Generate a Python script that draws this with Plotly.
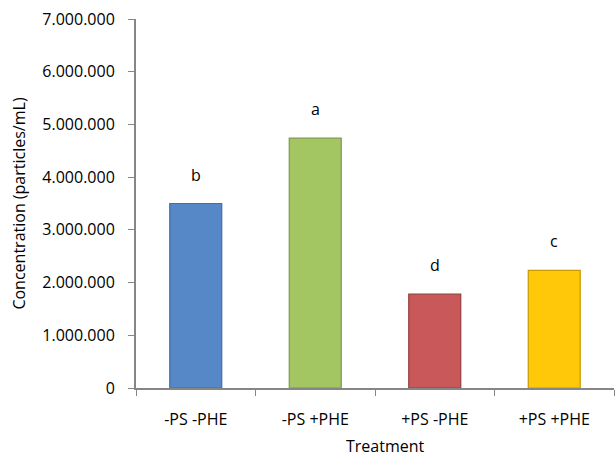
import plotly.graph_objects as go

categories = ["-PS -PHE", "-PS +PHE", "+PS -PHE", "+PS +PHE"]
values = [3500000, 4740000, 1780000, 2230000]
letters = ["b", "a", "d", "c"]
fill_colors = ["#5687C7", "#A3C562", "#C9585A", "#FFC90A"]
line_colors = ["#41709F", "#7F9A48", "#963F3D", "#C79B00"]

FONT = "Open Sans"

fig = go.Figure()
fig.add_trace(go.Bar(
    x=categories, y=values,
    marker=dict(color=fill_colors, line=dict(color=line_colors, width=1.2)),
    width=0.435,
    showlegend=False,
))

for c, v, t in zip(categories, values, letters):
    fig.add_annotation(x=c, y=v, text=t, showarrow=False, yshift=29,
                       yanchor="middle", font=dict(family=FONT, size=16, color="#000"))

# x-axis title placed as paper annotation
fig.add_annotation(text="Treatment", xref="paper", yref="paper", x=0.523, y=-0.122,
                   xanchor="center", yanchor="top", showarrow=False,
                   font=dict(family=FONT, size=16, color="#000"))

fig.update_layout(
    width=616, height=455,
    margin=dict(l=136, r=2, t=19, b=67),
    paper_bgcolor="white", plot_bgcolor="white",
    separators=",.",
    font=dict(family=FONT, size=16, color="#000"),
)
fig.update_yaxes(
    range=[0, 7000000], dtick=1000000, tickformat=",d",
    showgrid=False, zeroline=False, automargin=False,
    showline=True, linecolor="#868686", linewidth=2,
    ticks="outside", ticklen=6, tickcolor="#868686", tickwidth=1,
    ticklabelstandoff=10,
    tickfont=dict(family=FONT, size=16),
    title=dict(text="Concentration (particles/mL)", font=dict(family=FONT, size=16), standoff=13),
)
fig.update_xaxes(
    showgrid=False, automargin=False,
    showline=True, linecolor="#868686", linewidth=2,
    ticks="outside", tickson="boundaries", ticklen=6, tickcolor="#868686", tickwidth=1,
    ticklabelstandoff=16,
    tickfont=dict(family=FONT, size=16),
)

fig.write_html("out.html")
